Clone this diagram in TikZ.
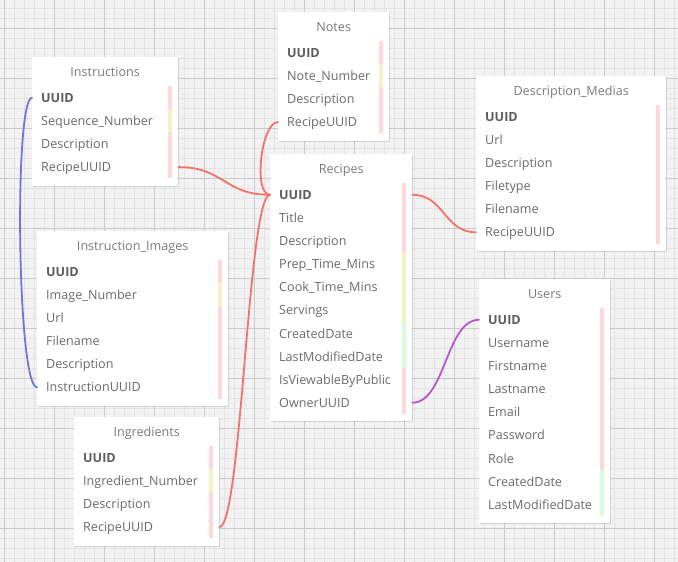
\documentclass[tikz,border=0pt]{standalone}
\usepackage{fontspec}
\setmainfont{Open Sans}
\usetikzlibrary{calc,shadows}

\definecolor{canvas}{HTML}{F2F2F2}
\definecolor{gridminor}{HTML}{E3E3E3}
\definecolor{gridmajor}{HTML}{C9C9C9}
\definecolor{rowtext}{HTML}{6A6A6A}
\definecolor{titletext}{HTML}{7A7A7A}
\definecolor{keytext}{HTML}{5C5C5C}
\definecolor{barP}{HTML}{FFD9D9}
\definecolor{barY}{HTML}{F5F3C5}
\definecolor{barG}{HTML}{DBFCDB}
\definecolor{fkred}{HTML}{F2736B}
\definecolor{fkblue}{HTML}{6F77CF}
\definecolor{fkpurple}{HTML}{B35ACB}

\newcommand\keyfield[1]{{\color{keytext}\bfseries #1}}

\tikzset{
  tbl/.style={fill=white, draw=none, inner sep=0pt, anchor=north west,
    drop shadow={shadow xshift=0.8pt, shadow yshift=-1.2pt, opacity=0.12, fill=black}},
  ttl/.style={text=titletext, inner sep=0pt, font=\fontsize{12.6}{15}\selectfont,
    text height=12pt, text depth=2.7pt},
  fieldrow/.style={text=rowtext, inner sep=0pt, anchor=west, font=\fontsize{12.6}{15}\selectfont,
    text height=12pt, text depth=2.7pt},
  fk/.style={line width=1.8pt, line cap=round},
}

% table: name, left, top, width, number of rows, title, list of field/colour
\newcommand\erdtable[7]{%
  \node[tbl, minimum width=#4pt, minimum height={59+23.1*(#5-1)}] (#1) at (#2,#3) {};
  \node[ttl] (#1t) at ($(#1.north)+(0,15)$) {#6};
  \foreach \lbl/\c [count=\i] in {#7} {
    \node[fieldrow] (#1\i) at ($(#1.north west)+(9,{40.8+23.1*(\i-1)})$) {\lbl};
    \fill[bar\c] ($(#1.north east)+(-10,{29+23.1*(\i-1)})$) rectangle
                 ($(#1.north east)+(-6,{52.1+23.1*(\i-1)})$);
  }
}

\begin{document}
\begin{tikzpicture}[x=1pt, y=-1pt]
  \useasboundingbox (0,0) rectangle (678,562);
  \fill[canvas] (0,0) rectangle (678,562);

  % background grid
  \foreach \x in {4,14,...,674} \draw[gridminor, line width=1pt] (\x,0) -- (\x,562);
  \foreach \y in {8,18,...,558} \draw[gridminor, line width=1pt] (0,\y) -- (678,\y);
  \foreach \x in {4,54,...,654} \draw[gridmajor, line width=1pt] (\x,0) -- (\x,562);
  \foreach \y in {28,78,...,528} \draw[gridmajor, line width=1pt] (0,\y) -- (678,\y);

  % tables
  \erdtable{ins}{32}{57}{146}{4}{Instructions}
    {\keyfield{UUID}/P, Sequence\_Number/Y, Description/P, RecipeUUID/P}
  \erdtable{notes}{278}{12}{111}{4}{Notes}
    {\keyfield{UUID}/P, Note\_Number/Y, Description/P, RecipeUUID/P}
  \erdtable{rec}{270}{154}{142}{10}{Recipes}
    {\keyfield{UUID}/P, Title/P, Description/P, Prep\_Time\_Mins/Y, Cook\_Time\_Mins/Y,
     Servings/Y, CreatedDate/G, LastModifiedDate/G, IsViewableByPublic/P, OwnerUUID/P}
  \erdtable{dm}{476}{76}{190}{6}{Description\_Medias}
    {\keyfield{UUID}/P, Url/P, Description/P, Filetype/P, Filename/P, RecipeUUID/P}
  \erdtable{usr}{479}{279}{131}{9}{Users}
    {\keyfield{UUID}/P, Username/P, Firstname/P, Lastname/P, Email/P, Password/P,
     Role/P, CreatedDate/G, LastModifiedDate/G}
  \erdtable{ii}{37}{231}{191}{6}{Instruction\_Images}
    {\keyfield{UUID}/P, Image\_Number/Y, Url/P, Filename/P, Description/P, InstructionUUID/P}
  \erdtable{ing}{74}{417}{145}{4}{Ingredients}
    {\keyfield{UUID}/P, Ingredient\_Number/Y, Description/P, RecipeUUID/P}

  % relations
  \draw[fk, fkblue] (ins1 -| ins.west) .. controls +(-18,0) and +(-20,0) .. (ii6 -| ii.west);
  \draw[fk, fkred] (ins4 -| ins.east) .. controls +(46,0) and +(-46,0) .. (rec1 -| rec.west);
  \draw[fk, fkred] (notes4 -| notes.west) .. controls +(-17,0) and +(-17,0) .. (rec1 -| rec.west);
  \draw[fk, fkred] (ing4 -| ing.east) .. controls +(22,0) and +(-22,0) .. (rec1 -| rec.west);
  \draw[fk, fkred] (rec1 -| rec.east) .. controls +(32,0) and +(-32,0) .. (dm6 -| dm.west);
  \draw[fk, fkpurple] (rec10 -| rec.east) .. controls +(33,0) and +(-33,0) .. (usr1 -| usr.west);
\end{tikzpicture}
\end{document}
